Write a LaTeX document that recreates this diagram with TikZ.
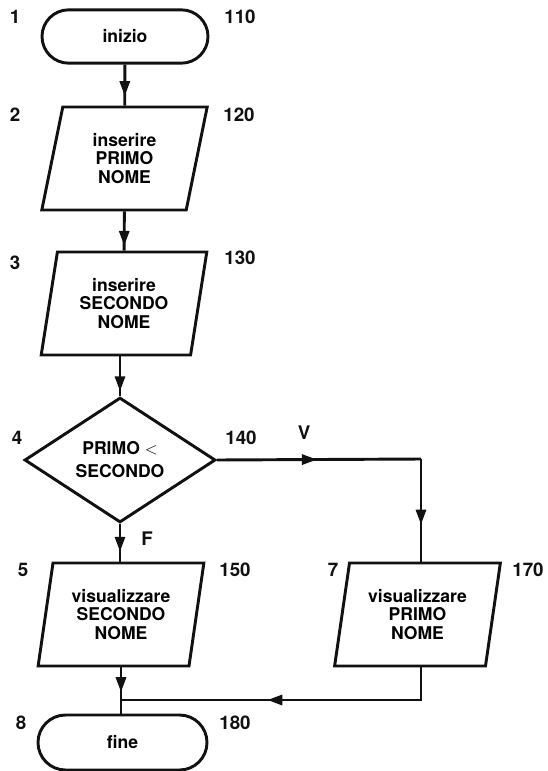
\documentclass[tikz,border=0pt]{standalone}
\usepackage{fontspec}
\setmainfont{TeX Gyre Heros}
\usetikzlibrary{arrows.meta, shapes.geometric, shapes.misc, decorations.markings}
\definecolor{inkBlack}{HTML}{111111}

\tikzset{
  box/.style={draw=inkBlack, line width=2.5pt, align=center, inner sep=0pt,
    font=\fontsize{15}{16}\selectfont\bfseries},
  terminal/.style={box, rounded rectangle, minimum width=#1, minimum height=16mm},
  io/.style={box, trapezium, trapezium stretches=true, trapezium left angle=78,
    trapezium right angle=102, minimum width=49.8mm, minimum height=30.9mm},
  test/.style={box, diamond, minimum width=57.3mm, minimum height=36mm,
    font=\fontsize{15}{19.6}\selectfont\bfseries},
  tag/.style={font=\fontsize{16}{18}\selectfont\bfseries, text=inkBlack},
  flow/.style={draw=inkBlack, line width=2.5pt, postaction=decorate,
    decoration={markings, mark=at position #1 with {\arrow{Triangle[length=4.5mm, width=3mm]}}}},
  wire/.style={draw=inkBlack, line width=2.5pt}
}

\begin{document}
\begin{tikzpicture}[x=0.3mm, y=-0.3mm]
  \useasboundingbox (0,0) rectangle (548,771);

  \node[terminal=49.8mm] (start) at (125,36.5) {inizio};
  \node[io] (in1) at (124.5,158.5) {inserire\\PRIMO\\NOME};
  \node[io] (in2) at (124,303.5) {inserire\\SECONDO\\NOME};
  \node[test] (dec) at (120,460) {PRIMO $<$\\SECONDO};
  \node[io] (out5) at (121,614.5) {visualizzare\\SECONDO\\NOME};
  \node[io] (out7) at (417.5,614.5) {visualizzare\\PRIMO\\NOME};
  \node[terminal=50.7mm, minimum height=16.5mm] (stop) at (122.5,742.5) {fine};

  % step numbers and line numbers
  \foreach \name/\x/\y/\t in {s1/15/17/1, s2/15/115/2, s3/15/263/3, s4/17/438/4,
      s5/23/570/5, s7/333/570/7, s8/21/723/8,
      l110/240/17/110, l120/239/115/120, l130/240/258/130, l140/241/438/140,
      l150/235/570/150, l170/528/570/170, l180/235/723/180}{
    \node[tag] (\name) at (\x,\y) {\t};
  }
  \node[tag] (vero) at (304,433) {V};
  \node[tag] (falso) at (147,539) {F};

  \coordinate (bend) at (421,459);
  \coordinate (join) at (121,700);

  \draw[flow=0.77] (start) -- (in1);
  \draw[flow=0.88] (in1) -- (in2);
  \draw[flow=0.88] (in2.south -| dec.north) -- (dec.north);
  \draw[flow=0.49] (dec.east) -- (bend);
  \draw[flow=0.64] (bend) -- (bend |- out7.north);
  \draw[flow=0.74] (dec.south) -- (dec.south |- out5.north);
  \draw[flow=0.76] (out5.south -| join) -- (join);
  \draw[flow=0.56] (bend |- out7.south) |- (join);
  \draw[wire] (join) -- (join |- stop.north);
\end{tikzpicture}
\end{document}
